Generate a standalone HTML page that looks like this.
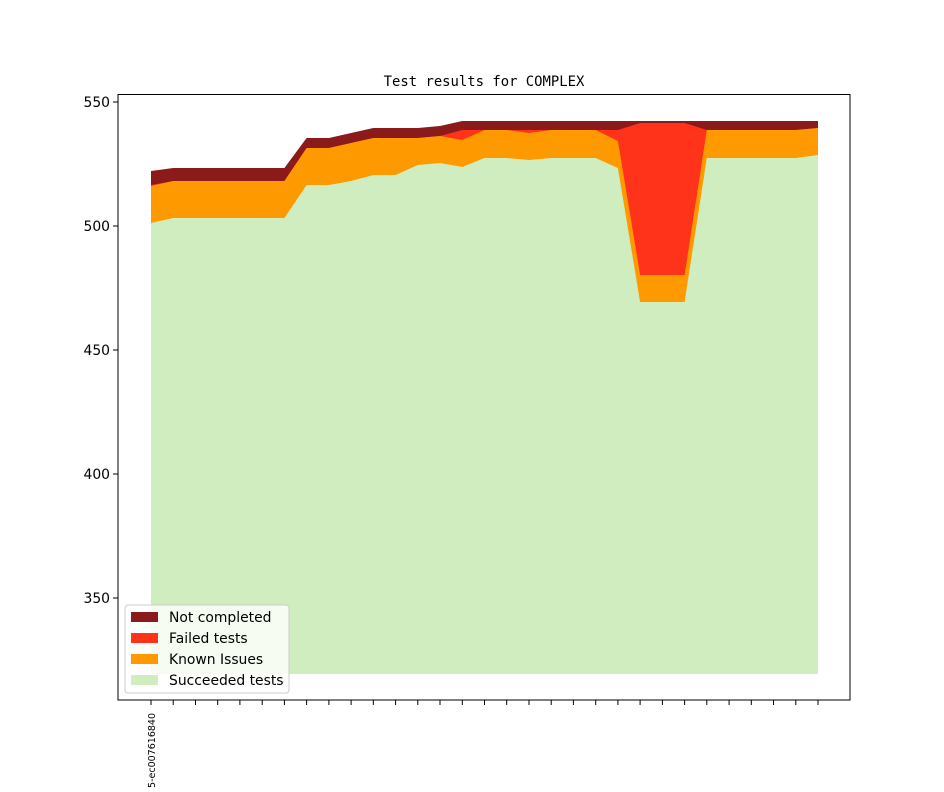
<!DOCTYPE html>
<html><head><meta charset="utf-8"><style>
body{margin:0;background:#fff}
svg text{font-family:"DejaVu Sans","Liberation Sans",sans-serif}
</style></head><body>
<svg width="944" height="787" viewBox="0 0 944 787" xmlns="http://www.w3.org/2000/svg">
<rect width="944" height="787" fill="#fff"/>
<text x="484" y="86" text-anchor="middle" font-size="13.9" style="font-family:'DejaVu Sans Mono','Liberation Mono',monospace">Test results for COMPLEX</text>
<polygon fill="#8b1a1a" points="151,171 173.2,168 284.4,168 306.6,138 328.9,138 351.1,133 373.3,128 417.8,128 440,126 462.3,121 818,121 818,674 151,674"/>
<polygon fill="#ff321a" points="151,185 173.2,181 284.4,181 306.6,148 328.9,148 351.1,143 373.3,138 417.8,138 440,136 462.3,130 617.9,130 640.1,123 684.6,123 706.8,130 795.8,130 818,128 818,674 151,674"/>
<polygon fill="#ff9900" points="151,186 173.2,181 284.4,181 306.6,148 328.9,148 351.1,143 373.3,138 417.8,138 440,136 462.3,140 484.5,130 506.7,130 529,133 551.2,130 595.7,130 617.9,141 640.1,275 684.6,275 706.8,130 795.8,130 818,128 818,674 151,674"/>
<polygon fill="#cfedbf" points="151,223 173.2,218 195.5,218 217.7,218 239.9,218 262.2,218 284.4,218 306.6,185 328.9,185 351.1,181 373.3,175 395.6,175 417.8,165 440,163 462.3,167 484.5,158 506.7,158 529,160 551.2,158 573.4,158 595.7,158 617.9,168 640.1,302 662.4,302 684.6,302 706.8,158 729.1,158 751.3,158 773.5,158 795.8,158 818,155 818,674 151,674"/>
<rect x="118" y="94.5" width="732" height="605.5" fill="none" stroke="#000" stroke-width="1"/>
<g stroke="#000" stroke-width="1">
<line x1="113" y1="102" x2="118" y2="102"/><line x1="113" y1="226" x2="118" y2="226"/><line x1="113" y1="350" x2="118" y2="350"/><line x1="113" y1="474" x2="118" y2="474"/><line x1="113" y1="598" x2="118" y2="598"/>
</g>
<g font-size="13.9" text-anchor="end">
<text x="110" y="107">550</text><text x="110" y="231">500</text><text x="110" y="355">450</text><text x="110" y="479">400</text><text x="110" y="603">350</text>
</g>
<g stroke="#000" stroke-width="1">
<line x1="151" y1="700" x2="151" y2="705"/><line x1="173.2" y1="700" x2="173.2" y2="705"/><line x1="195.5" y1="700" x2="195.5" y2="705"/><line x1="217.7" y1="700" x2="217.7" y2="705"/><line x1="239.9" y1="700" x2="239.9" y2="705"/><line x1="262.2" y1="700" x2="262.2" y2="705"/><line x1="284.4" y1="700" x2="284.4" y2="705"/><line x1="306.6" y1="700" x2="306.6" y2="705"/><line x1="328.9" y1="700" x2="328.9" y2="705"/><line x1="351.1" y1="700" x2="351.1" y2="705"/><line x1="373.3" y1="700" x2="373.3" y2="705"/><line x1="395.6" y1="700" x2="395.6" y2="705"/><line x1="417.8" y1="700" x2="417.8" y2="705"/><line x1="440" y1="700" x2="440" y2="705"/><line x1="462.3" y1="700" x2="462.3" y2="705"/><line x1="484.5" y1="700" x2="484.5" y2="705"/><line x1="506.7" y1="700" x2="506.7" y2="705"/><line x1="529" y1="700" x2="529" y2="705"/><line x1="551.2" y1="700" x2="551.2" y2="705"/><line x1="573.4" y1="700" x2="573.4" y2="705"/><line x1="595.7" y1="700" x2="595.7" y2="705"/><line x1="617.9" y1="700" x2="617.9" y2="705"/><line x1="640.1" y1="700" x2="640.1" y2="705"/><line x1="662.4" y1="700" x2="662.4" y2="705"/><line x1="684.6" y1="700" x2="684.6" y2="705"/><line x1="706.8" y1="700" x2="706.8" y2="705"/><line x1="729.1" y1="700" x2="729.1" y2="705"/><line x1="751.3" y1="700" x2="751.3" y2="705"/><line x1="773.5" y1="700" x2="773.5" y2="705"/><line x1="795.8" y1="700" x2="795.8" y2="705"/><line x1="818" y1="700" x2="818" y2="705"/>
</g>
<text transform="translate(155,713) rotate(-90)" font-size="9.5" text-anchor="end">3a1c2e5-ec007616840</text>
<rect x="125" y="605" width="164" height="88" rx="3" fill="#fff" fill-opacity="0.8" stroke="#ccc" stroke-width="1"/>
<rect x="131" y="612" width="27" height="10" fill="#8b1a1a"/>
<rect x="131" y="633" width="27" height="10" fill="#ff321a"/>
<rect x="131" y="654" width="27" height="10" fill="#ff9900"/>
<rect x="131" y="675" width="27" height="10" fill="#cfedbf"/>
<g font-size="13.9">
<text x="169" y="622">Not completed</text>
<text x="169" y="643">Failed tests</text>
<text x="169" y="664">Known Issues</text>
<text x="169" y="685">Succeeded tests</text>
</g>
</svg>
</body></html>
